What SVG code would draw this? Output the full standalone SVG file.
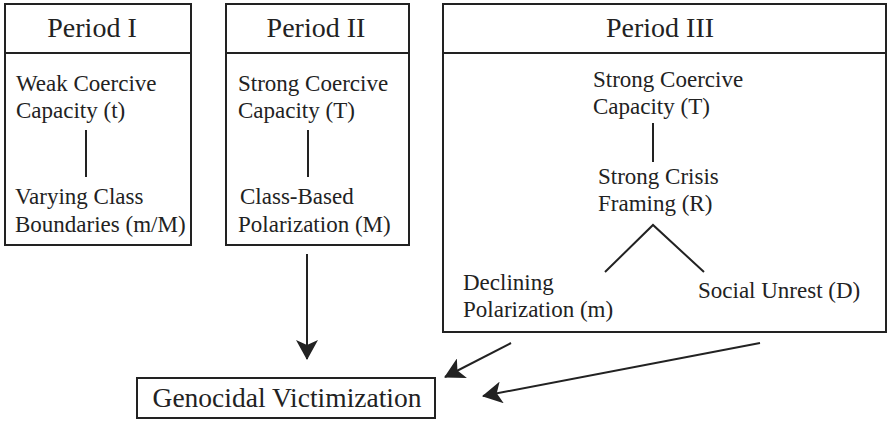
<svg xmlns="http://www.w3.org/2000/svg" width="889" height="422" viewBox="0 0 889 422">
<style>
  .box{fill:#fff;stroke:#222;stroke-width:2}
  .ln{stroke:#222;stroke-width:2;fill:none}
  .h{font-family:"Liberation Serif","Times New Roman",serif;font-size:28px;fill:#222;text-anchor:middle}
  .t{font-family:"Liberation Serif","Times New Roman",serif;font-size:23px;fill:#222}
  .g{font-family:"Liberation Serif","Times New Roman",serif;font-size:27.5px;fill:#222;text-anchor:middle}
</style>
<defs>
  <marker id="ah" viewBox="0 0 20 22" refX="19" refY="11" markerWidth="20" markerHeight="22" markerUnits="userSpaceOnUse" orient="auto">
    <path d="M0,0 L20,11 L0,22 L5,11 z" fill="#222"/>
  </marker>
</defs>
<rect width="889" height="422" fill="#fff"/>
<g id="period1">
  <rect class="box" x="5" y="4" width="186" height="241"/>
  <line class="ln" x1="5" y1="53" x2="191" y2="53"/>
  <text class="h" x="92" y="37">Period I</text>
  <text class="t" x="16" y="91">Weak Coercive</text>
  <text class="t" x="16" y="118">Capacity (t)</text>
  <line class="ln" x1="86" y1="130" x2="86" y2="177"/>
  <text class="t" x="15" y="204">Varying Class</text>
  <text class="t" x="15" y="232">Boundaries (m/M)</text>
</g>
<g id="period2">
  <rect class="box" x="226" y="4" width="183" height="241"/>
  <line class="ln" x1="226" y1="53" x2="409" y2="53"/>
  <text class="h" x="316" y="37">Period II</text>
  <text class="t" x="238" y="91">Strong Coercive</text>
  <text class="t" x="238" y="118">Capacity (T)</text>
  <line class="ln" x1="308" y1="130" x2="308" y2="177"/>
  <text class="t" x="240" y="204">Class-Based</text>
  <text class="t" x="238" y="232">Polarization (M)</text>
</g>
<g id="period3">
  <rect class="box" x="443" y="4" width="443" height="328"/>
  <line class="ln" x1="443" y1="53" x2="886" y2="53"/>
  <text class="h" x="660" y="37">Period III</text>
  <text class="t" x="593" y="87">Strong Coercive</text>
  <text class="t" x="593" y="114">Capacity (T)</text>
  <line class="ln" x1="653" y1="123" x2="653" y2="162"/>
  <text class="t" x="598" y="184">Strong Crisis</text>
  <text class="t" x="598" y="211">Framing (R)</text>
  <polyline class="ln" points="605,272 653,225 704,272"/>
  <text class="t" x="463" y="290">Declining</text>
  <text class="t" x="463" y="317">Polarization (m)</text>
  <text class="t" x="698" y="298">Social Unrest (D)</text>
</g>
<g id="genocidal">
  <rect class="box" x="137" y="378" width="298" height="40"/>
  <text class="g" x="287" y="407">Genocidal Victimization</text>
</g>
<g id="connectors">
  <line class="ln" x1="307" y1="254" x2="307" y2="359" marker-end="url(#ah)"/>
  <line class="ln" x1="511" y1="343" x2="445" y2="377" marker-end="url(#ah)"/>
  <line class="ln" x1="760" y1="343" x2="483" y2="396" marker-end="url(#ah)"/>
</g>
</svg>
